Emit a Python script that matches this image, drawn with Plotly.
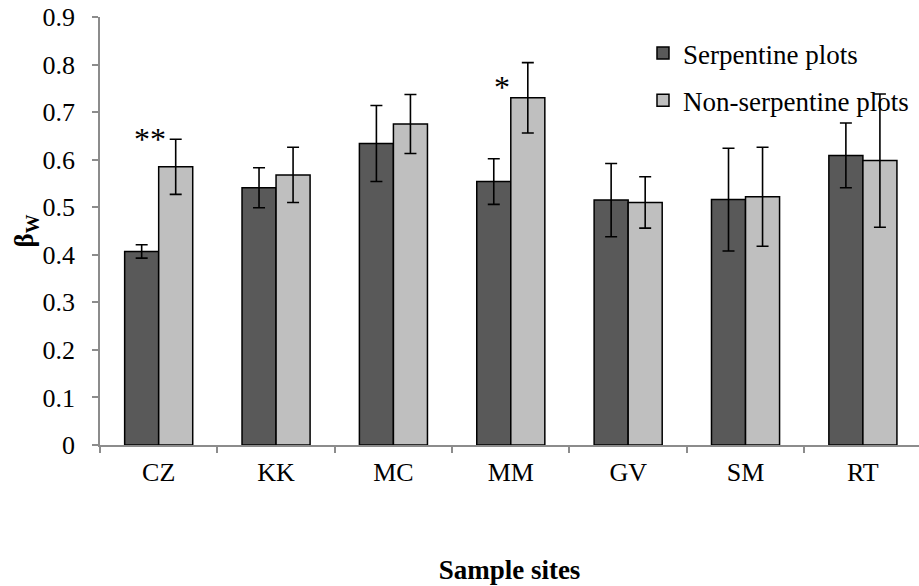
import plotly.graph_objects as go

# Sample sites and beta-diversity (βw) means with error half-widths
sites = ["CZ", "KK", "MC", "MM", "GV", "SM", "RT"]
serpentine = [0.407, 0.541, 0.634, 0.554, 0.515, 0.516, 0.609]
serpentine_err = [0.014, 0.042, 0.080, 0.048, 0.077, 0.108, 0.068]
non_serpentine = [0.585, 0.568, 0.675, 0.730, 0.510, 0.522, 0.598]
non_serpentine_err = [0.058, 0.058, 0.062, 0.074, 0.054, 0.104, 0.140]

# Significance markers placed over the non-serpentine bars
sig_sites = ["CZ", "MM"]
sig_marks = ["**", "*"]

FONT = "Times New Roman"
AXIS_GREY = "#8c8c8c"

err_style = dict(type="data", visible=True, color="black", thickness=1.6, width=6)

fig = go.Figure()
fig.add_trace(go.Bar(
    x=sites, y=serpentine, name="Serpentine plots",
    marker=dict(color="#595959", line=dict(color="black", width=1.5)),
    error_y=dict(array=serpentine_err, **err_style),
    legendgroup="a",
))
fig.add_trace(go.Bar(
    x=sites, y=non_serpentine, name="Non-serpentine plots",
    marker=dict(color="#bfbfbf", line=dict(color="black", width=1.5)),
    error_y=dict(array=non_serpentine_err, **err_style),
    legendgroup="b",
))

for site, mark in zip(sig_sites, sig_marks):
    i = sites.index(site)
    top = non_serpentine[i] + non_serpentine_err[i]
    fig.add_annotation(
        x=site, y=top, xref="x", yref="y", text=mark, showarrow=False,
        xshift=-9, yshift=0 if mark == "**" else -24,
        xanchor="center", yanchor="middle",
        font=dict(family=FONT, size=32, color="black"),
    )

fig.update_layout(
    width=919, height=586,
    margin=dict(l=100, r=0, t=17, b=141, pad=0),
    paper_bgcolor="white", plot_bgcolor="white",
    barmode="group", bargap=0.42, bargroupgap=0,
    font=dict(family=FONT, size=26, color="black"),
    showlegend=True,
    legend=dict(
        x=0.663, y=0.972, xanchor="left", yanchor="top",
        bgcolor="rgba(0,0,0,0)", font=dict(family=FONT, size=27, color="black"),
        tracegroupgap=9, itemwidth=30,
    ),
)
fig.update_xaxes(
    type="category", range=[-0.5, 6.478], tickson="boundaries",
    showline=True, linecolor=AXIS_GREY, linewidth=1.5,
    ticks="outside", tickcolor=AXIS_GREY, ticklen=6, tickwidth=1.5,
    tickfont=dict(family=FONT, size=26), ticklabelstandoff=3,
    showgrid=False, zeroline=False,
    title=dict(text="<b>Sample sites</b>", font=dict(family=FONT, size=27), standoff=74),
)
fig.update_yaxes(
    range=[0, 0.9], showline=True, linecolor=AXIS_GREY, linewidth=1.5,
    ticks="outside", tickcolor=AXIS_GREY, ticklen=6, tickwidth=1.5,
    tickvals=[0, 0.1, 0.2, 0.3, 0.4, 0.5, 0.6, 0.7, 0.8, 0.9],
    ticktext=["0", "0.1", "0.2", "0.3", "0.4", "0.5", "0.6", "0.7", "0.8", "0.9"],
    tickfont=dict(family=FONT, size=26), ticklabelstandoff=12,
    showgrid=False, zeroline=False,
    title=dict(text="<b>β<sub>W</sub></b>", font=dict(family=FONT, size=27), standoff=0),
)
fig.write_html("out.html")
